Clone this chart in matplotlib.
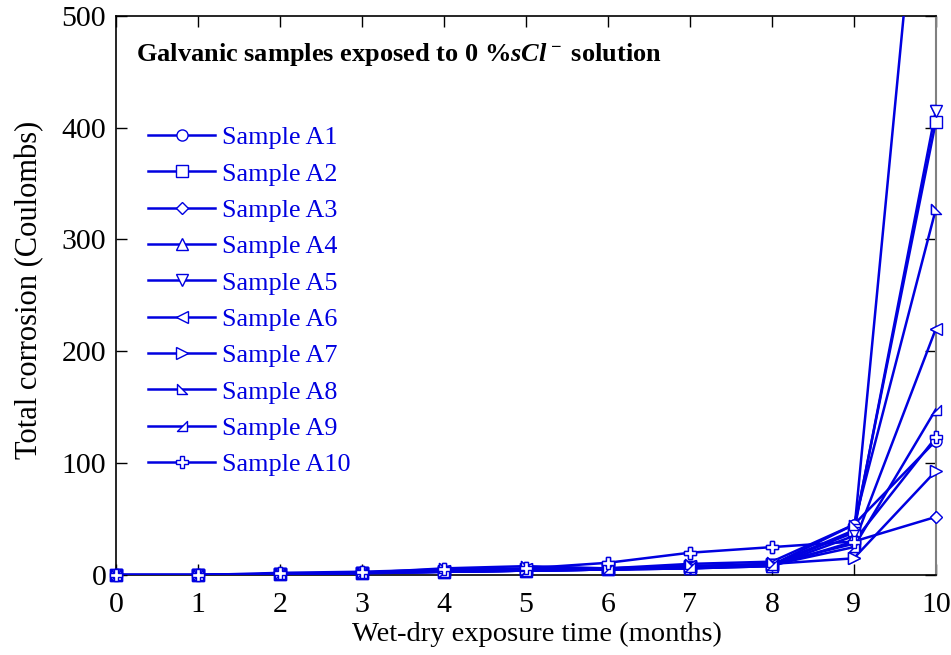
import numpy as np
import matplotlib
matplotlib.use("Agg")
import matplotlib.pyplot as plt
from matplotlib.path import Path

plt.rcParams['font.family'] = ['Liberation Serif', 'DejaVu Serif']
plt.rcParams['mathtext.fontset'] = 'custom'
plt.rcParams['mathtext.rm'] = 'Liberation Serif:bold'
plt.rcParams['mathtext.it'] = 'Liberation Serif:italic:bold'
plt.rcParams['mathtext.bf'] = 'Liberation Serif:bold'

months = [0, 1, 2, 3, 4, 5, 6, 7, 8, 9, 10]
labels = ["Sample A1", "Sample A2", "Sample A3", "Sample A4", "Sample A5",
          "Sample A6", "Sample A7", "Sample A8", "Sample A9", "Sample A10"]
A1 = [0, 0, 1, 2, 3, 4, 5, 7, 9, 45, 120]
A2 = [0, 0, 1, 2, 3, 4, 5, 7, 9, 40, 405]
A3 = [0, 0, 1, 1.5, 3, 4, 5, 6, 8, 30, 52]
A4 = [0, 0, 1, 2, 3, 4, 5, 6, 8, 35, 800]
A5 = [0, 0, 1, 2, 3, 4, 5, 6, 9, 38, 415]
A6 = [0, 0, 1, 2, 4, 5, 6, 8, 10, 28, 220]
A7 = [0, 0, 1, 2, 4, 5, 6, 8, 10, 15, 93]
A8 = [0, 0, 1, 2, 6, 8, 6, 10, 12, 45, 327]
A9 = [0, 0, 1, 2, 3, 4, 5, 7, 9, 25, 148]
A10 = [0, 0, 2, 3, 5, 6, 11, 20, 25, 30, 123]
series = [A1, A2, A3, A4, A5, A6, A7, A8, A9, A10]

tri_a8 = Path([(-1, 1), (-1, -1), (1, -1), (-1, 1)],
              [Path.MOVETO, Path.LINETO, Path.LINETO, Path.CLOSEPOLY])
tri_a9 = Path([(1, 1), (1, -1), (-1, -1), (1, 1)],
              [Path.MOVETO, Path.LINETO, Path.LINETO, Path.CLOSEPOLY])
markers = ['o', 's', 'D', '^', 'v', '<', '>', tri_a8, tri_a9, 'P']
msizes = [8, 8, 6, 8, 8, 8, 8, 7, 7, 9]

color = '#0000e0'
fig = plt.figure(figsize=(9.51, 6.55), dpi=100)
ax = fig.add_axes([0.122, 0.122, 0.862, 0.854])

for vals, lab, mk, ms in zip(series, labels, markers, msizes):
    v = np.array(vals, dtype=float)
    ax.plot(months, v, color=color, lw=1.8, marker=mk, ms=ms,
            mfc='white', mec=color, mew=1.0, label=lab, zorder=3)
    vin = np.where(v <= 500, v, np.nan)
    ax.plot(months, vin, linestyle='none', marker=mk, ms=ms,
            mfc='white', mec=color, mew=1.0, clip_on=False, zorder=4)

ax.set_xlim(0, 10)
ax.set_ylim(0, 500)
ax.set_xticks(range(0, 11))
ax.set_yticks(range(0, 501, 100))
ax.tick_params(direction='in', length=8, width=1, labelsize=21.5,
               top=True, right=True)
ax.tick_params(axis='x', pad=12)
ax.tick_params(axis='y', pad=7)
ax.spines['right'].set_color('#808080')
ax.spines['right'].set_linewidth(1.5)
for s in ['left', 'bottom', 'top']:
    ax.spines[s].set_linewidth(1.2)

ax.set_xlabel("Wet-dry exposure time (months)", fontsize=20.5)
ax.set_ylabel("Total corrosion (Coulombs)", fontsize=22)
ax.xaxis.set_label_coords(0.514, -0.083)
ax.yaxis.set_label_coords(-0.088, 0.51)

ax.text(0.024, 0.93, r"Galvanic samples exposed to 0 %$sCl^-$ solution",
        transform=ax.transAxes, fontsize=19, fontweight='bold',
        ha='left', va='center')

leg = ax.legend(loc='upper left', bbox_to_anchor=(0.039, 0.803), frameon=False,
                fontsize=18.8, handlelength=2.57, handletextpad=0.27,
                labelspacing=0.5, borderaxespad=0, borderpad=0)
for t in leg.get_texts():
    t.set_color(color)

fig.savefig("out.png", dpi=100)
